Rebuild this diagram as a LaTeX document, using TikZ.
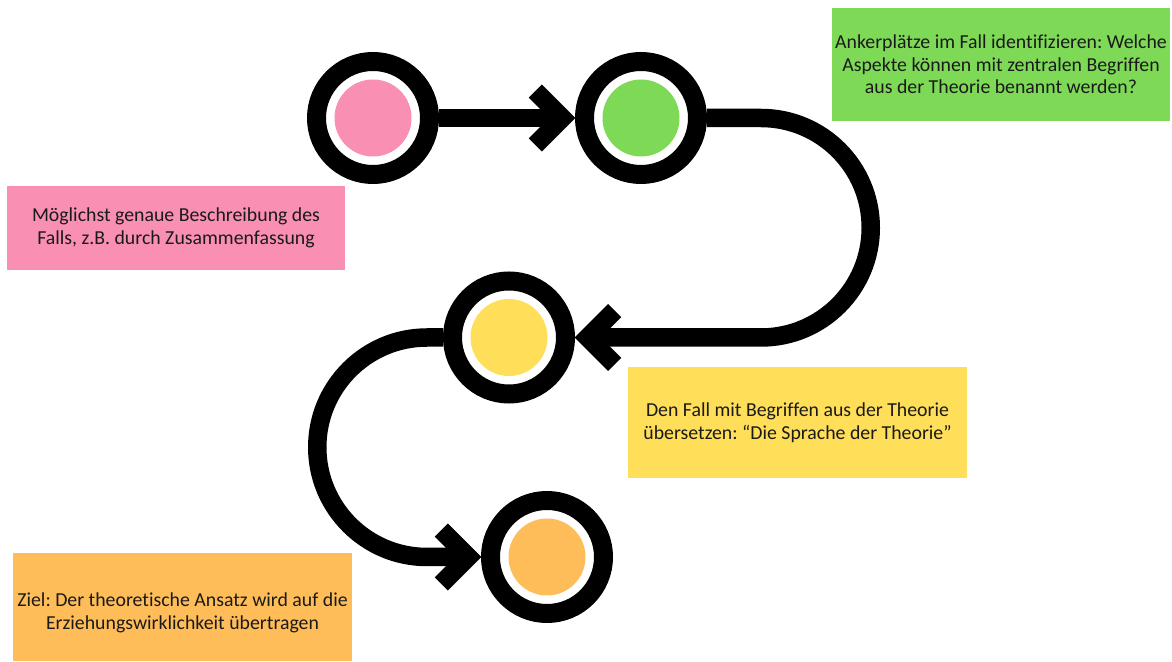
\documentclass[tikz,border=0pt]{standalone}
\usepackage{fontspec}
\setmainfont{Carlito}[Ligatures=NoCommon]
\frenchspacing
\definecolor{cpink}{HTML}{F98FB3}
\definecolor{cgreen}{HTML}{7ED957}
\definecolor{cyellow}{HTML}{FFDE59}
\definecolor{corange}{HTML}{FFBD59}
\definecolor{ctext}{HTML}{1A1A1A}
\tikzset{
  ring/.style={circle, draw=black, line width=19pt, minimum size=113pt, inner sep=0pt, fill=white},
  conn/.style={draw=black, line width=18.5pt, line cap=butt},
  infobox/.style={rectangle, inner sep=0pt, text=ctext, align=center,
     font=\fontsize{19.8}{22.5}\selectfont},
  chev/.pic={\draw[line width=18.5pt, line join=miter, miter limit=10, line cap=butt]
     (-39.7,27) -- (-12.7,0) -- (-39.7,-27);}
}
\begin{document}
\begin{tikzpicture}[x=1pt,y=1pt]
\useasboundingbox (0,0) rectangle (1172,661);
% boxes
\node[infobox, fill=cpink, minimum width=338pt, minimum height=84pt] (b1) at (176,433)
  {Möglichst genaue Beschreibung des\\Falls, z.B. durch Zusammenfassung};
\node[infobox, fill=cgreen, minimum width=338pt, minimum height=113pt] (b2) at (1001,596.5)
  {Ankerplätze im Fall identifizieren: Welche\\Aspekte können mit zentralen Begriffen\\aus der Theorie benannt werden?};
\node[infobox, fill=cyellow, minimum width=339pt, minimum height=111pt] (b3) at (797.5,238.5)
  {Den Fall mit Begriffen aus der Theorie\\übersetzen: “Die Sprache der Theorie”};
\node[infobox, fill=corange, minimum width=339pt, minimum height=108pt] (b4) at (182.5,54) {};
\node[infobox] (t4) at ([yshift=-6pt]b4.center)
  {Ziel: Der theoretische Ansatz wird auf die\\Erziehungswirklichkeit übertragen};
% circles
\node[ring] (c1) at (373,543) {};
\node[ring] (c2) at (641,543) {};
\node[ring] (c3) at (509,323.5) {};
\node[ring] (c4) at (547,104) {};
\fill[cpink] (c1.center) circle (38.5pt);
\fill[cgreen] (c2.center) circle (38.5pt);
\fill[cyellow] (c3.center) circle (38.5pt);
\fill[corange] (c4.center) circle (38.5pt);
% connectors
\draw[conn, shorten >=12.7pt] (c1.east) -- (c2.west);
\pic at (c2.west) {chev};
\draw[conn, shorten >=12.7pt] (c2.east) -- ++(54,0) arc[start angle=90, end angle=-90, radius=109.75pt] -- (c3.east);
\pic[rotate=180] at (c3.east) {chev};
\draw[conn, shorten >=12.7pt] (c3.west) -- ++(-16,0) arc[start angle=90, end angle=270, radius=109.75pt] -- (c4.west);
\pic at (c4.west) {chev};
\end{tikzpicture}
\end{document}
